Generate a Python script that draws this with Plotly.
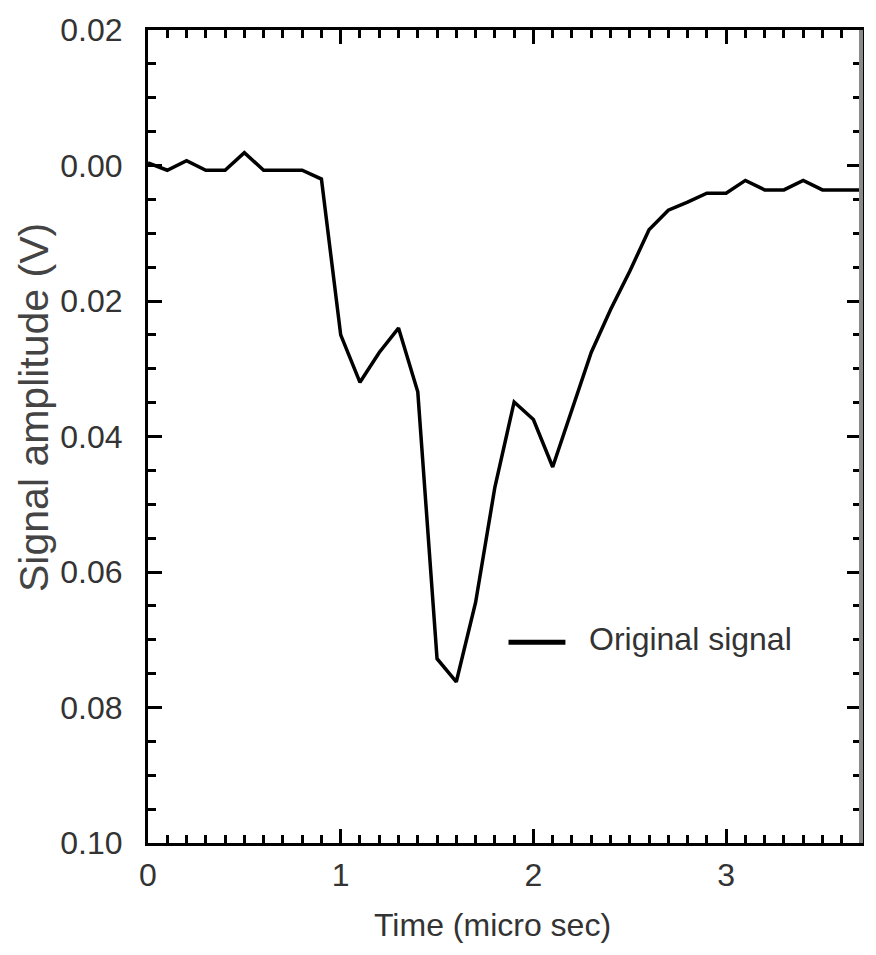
import plotly.graph_objects as go

# Data
time_us = [0.0, 0.1, 0.2, 0.3, 0.4, 0.5, 0.6, 0.7, 0.8, 0.9,
           1.0, 1.1, 1.2, 1.3, 1.4, 1.5, 1.6, 1.7, 1.8, 1.9,
           2.0, 2.1, 2.2, 2.3, 2.4, 2.5, 2.6, 2.7, 2.8, 2.9,
           3.0, 3.1, 3.2, 3.3, 3.4, 3.5, 3.6, 3.7]
amplitude_v = [0.0004, -0.0007, 0.0007, -0.0007, -0.0007, 0.0019, -0.0007, -0.0007, -0.0007, -0.0020,
               -0.0250, -0.0320, -0.0276, -0.0240, -0.0334, -0.0728, -0.0762, -0.0645, -0.0475, -0.0349,
               -0.0375, -0.0445, -0.0360, -0.0276, -0.0213, -0.0156, -0.0095, -0.0066, -0.0054, -0.0041,
               -0.0041, -0.0022, -0.0036, -0.0036, -0.0022, -0.0036, -0.0036, -0.0036]

x_tickvals = [0, 1, 2, 3]
x_ticktext = ["0", "1", "2", "3"]
y_tickvals = [0.02, 0.0, -0.02, -0.04, -0.06, -0.08, -0.10]
y_ticktext = ["0.02", "0.00", "0.02", "0.04", "0.06", "0.08", "0.10"]

series_name = "Original signal"
x_title = "Time (micro sec)"
y_title = "Signal amplitude (V)"

FONT = "Liberation Sans, Arial, sans-serif"
TXT = "#333333"

L, R, T, B = 148, 862, 21, 843
PW, PH = R - L, B - T

fig = go.Figure()
fig.add_trace(go.Scatter(
    x=time_us, y=amplitude_v, mode="lines", name=series_name,
    line=dict(color="black", width=3.5), showlegend=False,
))

fig.update_layout(
    width=876, height=955,
    margin=dict(l=L, r=876 - R, t=T, b=955 - B),
    paper_bgcolor="white", plot_bgcolor="white",
    showlegend=False,
)

fig.update_xaxes(
    range=[0, 3.7], tickvals=x_tickvals, ticktext=x_ticktext,
    ticks="inside", ticklen=14, tickwidth=3, tickcolor="black",
    minor=dict(dtick=0.1, ticks="inside", ticklen=8, tickwidth=2.5, tickcolor="black"),
    showline=True, linecolor="black", linewidth=3, mirror="ticks",
    showgrid=False, zeroline=False,
    tickfont=dict(family=FONT, size=32, color=TXT),
    ticklabelstandoff=2,
)
fig.update_yaxes(
    range=[-0.10, 0.0200001], tickvals=y_tickvals, ticktext=y_ticktext,
    ticks="inside", ticklen=14, tickwidth=3, tickcolor="black",
    minor=dict(dtick=0.005, ticks="inside", ticklen=8, tickwidth=2.5, tickcolor="black"),
    showline=True, linecolor="black", linewidth=3, mirror="ticks",
    showgrid=False, zeroline=False,
    tickfont=dict(family=FONT, size=32, color=TXT),
    ticklabelstandoff=16,
)

# right frame edge drawn grey as in the reference
fig.add_shape(type="line", xref="paper", yref="paper", x0=1, x1=1, y0=0, y1=1,
              line=dict(color="#8a8a8a", width=4), layer="above")

# axis titles
fig.add_annotation(text=x_title, xref="paper", yref="paper",
                   x=(493 - L) / PW, y=(B - 926) / PH,
                   xanchor="center", yanchor="middle", showarrow=False,
                   font=dict(family=FONT, size=32, color=TXT))
fig.add_annotation(text=y_title, xref="paper", yref="paper",
                   x=(34 - L) / PW, y=(B - 403) / PH, textangle=-90,
                   xanchor="center", yanchor="middle", showarrow=False,
                   font=dict(family=FONT, size=41, color="#444444"))

# legend (line sample + label)
fig.add_shape(type="line", xref="paper", yref="paper",
              x0=(509 - L) / PW, x1=(566 - L) / PW,
              y0=(B - 640) / PH, y1=(B - 640) / PH,
              line=dict(color="black", width=5))
fig.add_annotation(text=series_name, xref="paper", yref="paper",
                   x=(588 - L) / PW, y=(B - 637) / PH,
                   xanchor="left", yanchor="middle", showarrow=False,
                   font=dict(family=FONT, size=32, color=TXT))

fig.write_html("out.html", config={"displayModeBar": False},
               post_script="document.body.style.margin='0';")
